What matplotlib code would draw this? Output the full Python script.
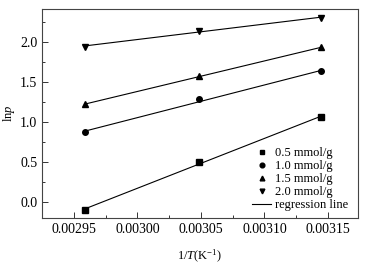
import matplotlib
matplotlib.use("Agg")
import matplotlib.pyplot as plt
import numpy as np
from matplotlib.ticker import MultipleLocator, AutoMinorLocator

plt.rcParams['font.family'] = 'Liberation Serif'
plt.rcParams['mathtext.fontset'] = 'custom'
plt.rcParams['mathtext.rm'] = 'Liberation Serif'
plt.rcParams['mathtext.it'] = 'Liberation Serif:italic'
plt.rcParams['font.size'] = 9

# 1/T for T = 338, 328, 318 K
inv_T = [1 / 338.0, 1 / 328.0, 1 / 318.0]
lnp_05 = [-0.10, 0.50, 1.06]
lnp_10 = [0.87, 1.28, 1.63]
lnp_15 = [1.22, 1.57, 1.93]
lnp_20 = [1.94, 2.14, 2.30]
labels = ["0.5 mmol/g", "1.0 mmol/g", "1.5 mmol/g", "2.0 mmol/g"]
markers = ["s", "o", "^", "v"]

fig = plt.figure(figsize=(3.72, 2.65), dpi=100)
ax = fig.add_axes([42 / 372, 1 - 218 / 265, 316 / 372, 209 / 265])

x = np.array(inv_T)
for ys, lab, m in zip([lnp_05, lnp_10, lnp_15, lnp_20], labels, markers):
    ax.plot(x, ys, linestyle="none", marker=m, color="black", markersize=4, label=lab)
    k, b = np.polyfit(x, ys, 1)
    ax.plot(x, k * x + b, color="black", linewidth=0.8)
ax.plot([], [], color="black", linewidth=0.8, label="regression line")

ax.set_xlim(0.002925, 0.0031736)
ax.set_ylim(-0.2, 2.41)
ax.xaxis.set_major_locator(MultipleLocator(0.00005))
ax.xaxis.set_minor_locator(AutoMinorLocator(2))
ax.yaxis.set_major_locator(MultipleLocator(0.5))
ax.yaxis.set_minor_locator(AutoMinorLocator(2))
ax.xaxis.set_major_formatter(plt.FuncFormatter(lambda v, p: "%.5f" % v))
ax.yaxis.set_major_formatter(plt.FuncFormatter(lambda v, p: "%.1f" % v))
ax.tick_params(which="both", direction="in", width=0.7, color="#333333", labelsize=10)
ax.tick_params(which="major", length=4)
ax.tick_params(which="minor", length=2.5)
for s in ax.spines.values():
    s.set_linewidth(0.8)
    s.set_color("#444444")

ax.set_xlabel(r"1/$\mathit{T}$(K$^{-1}$)", labelpad=9)
ax.set_ylabel(r"ln$\mathit{p}$", labelpad=2)

ax.legend(loc="lower right", bbox_to_anchor=(0.99, 0.0), frameon=False,
          handlelength=1.5, handletextpad=0.3, labelspacing=0.08,
          borderaxespad=0.15, fontsize=9, markerscale=0.85)

fig.savefig("out.png", dpi=100)
